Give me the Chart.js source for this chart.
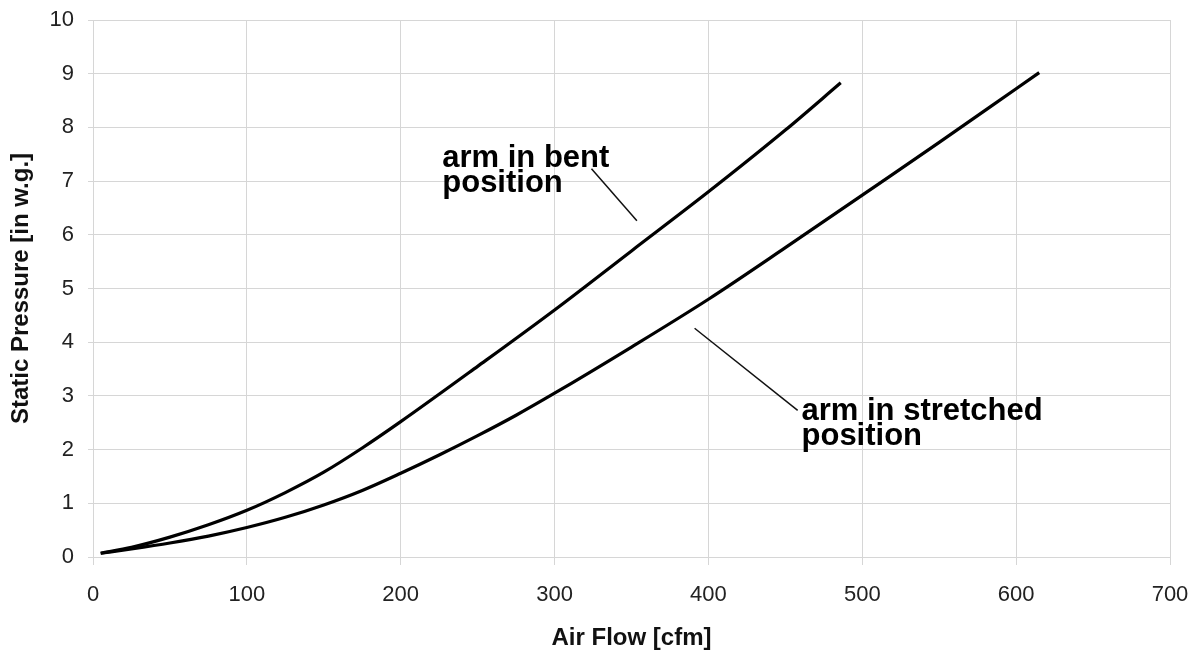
<!DOCTYPE html>
<html>
<head>
<meta charset="utf-8">
<script src="https://cdn.jsdelivr.net/npm/chart.js@4/dist/chart.umd.min.js"></script>
<style>
  html, body { margin: 0; padding: 0; background: #fff; }
  #wrap { width: 1197px; height: 650px; }
</style>
</head>
<body>
<div id="wrap"><canvas id="pressureChart" width="1197" height="650"></canvas></div>
<script>
// arm in bent position
let bentFlow = [5, 25, 50, 75, 100, 125, 150, 175, 200, 250, 300, 350, 400, 450, 486]
let bentPressure = [0.07, 0.18, 0.37, 0.6, 0.87, 1.2, 1.58, 2.03, 2.52, 3.55, 4.6, 5.7, 6.8, 7.95, 8.83]

// arm in stretched position
let stretchedFlow = [5, 25, 50, 75, 100, 125, 150, 175, 200, 225, 250, 275, 300, 350, 400, 450, 500, 550, 600, 615]
let stretchedPressure = [0.07, 0.15, 0.26, 0.39, 0.55, 0.74, 0.97, 1.24, 1.56, 1.9, 2.26, 2.64, 3.05, 3.91, 4.8, 5.76, 6.74, 7.72, 8.72, 9.02]

let xTicks = [0, 100, 200, 300, 400, 500, 600, 700]
let yTicks = [0, 1, 2, 3, 4, 5, 6, 7, 8, 9, 10]

// callouts: text lines, where the text starts, and the leader line ends (all in data units)
let callouts = [
    { lines: ['arm in bent', 'position'], at: [227, 7.27], leader: [[324, 7.23], [353.5, 6.26]] },
    { lines: ['arm in stretched', 'position'], at: [460.5, 2.55], leader: [[391, 4.26], [458, 2.73]] }
]

function toPoints(xs, ys) {
    return xs.map((x, i) => ({ x: x, y: ys[i] }))
}

const calloutPlugin = {
    id: 'callouts',
    afterDatasetsDraw(chart) {
        const ctx = chart.ctx
        const sx = chart.scales.x
        const sy = chart.scales.y
        ctx.save()
        callouts.forEach(c => {
            ctx.strokeStyle = '#111'
            ctx.lineWidth = 1.5
            ctx.beginPath()
            ctx.moveTo(sx.getPixelForValue(c.leader[0][0]), sy.getPixelForValue(c.leader[0][1]))
            ctx.lineTo(sx.getPixelForValue(c.leader[1][0]), sy.getPixelForValue(c.leader[1][1]))
            ctx.stroke()

            ctx.fillStyle = '#000'
            ctx.font = 'bold 31px "Liberation Sans", Arial, sans-serif'
            ctx.textAlign = 'left'
            ctx.textBaseline = 'alphabetic'
            let px = sx.getPixelForValue(c.at[0])
            let py = sy.getPixelForValue(c.at[1])
            c.lines.forEach((t, i) => ctx.fillText(t, px, py + i * 25))
        })
        ctx.restore()
    }
}

let gridColor = '#d6d6d6'
let ctx = document.getElementById('pressureChart').getContext('2d')

const pressureChart = new Chart(ctx, {
    type: 'line',
    data: {
        datasets: [{
            label: 'arm in bent position',
            data: toPoints(bentFlow, bentPressure),
            borderColor: '#000',
            borderWidth: 3.2,
            pointRadius: 0,
            cubicInterpolationMode: 'monotone',
            fill: false
        },
        {
            label: 'arm in stretched position',
            data: toPoints(stretchedFlow, stretchedPressure),
            borderColor: '#000',
            borderWidth: 3.2,
            pointRadius: 0,
            cubicInterpolationMode: 'monotone',
            fill: false
        }]
    },
    options: {
        responsive: false,
        animation: false,
        layout: { padding: { top: 20, right: 27, left: 0, bottom: 0 } },
        plugins: {
            legend: { display: false },
            tooltip: { enabled: false }
        },
        scales: {
            x: {
                type: 'linear',
                min: 0,
                max: 700,
                afterBuildTicks: scale => { scale.ticks = xTicks.map(v => ({ value: v })) },
                afterFit: scale => {
                    scale.height = 93
                    scale.paddingLeft = 0
                    scale.paddingRight = 0
                },
                grid: { color: gridColor, lineWidth: 1, tickLength: 8 },
                border: { color: gridColor },
                ticks: {
                    color: '#222',
                    padding: 17,
                    font: { family: '"Liberation Sans", Arial, sans-serif', size: 22 }
                },
                title: {
                    display: true,
                    text: 'Air Flow [cfm]',
                    color: '#111',
                    padding: 0,
                    font: { family: '"Liberation Sans", Arial, sans-serif', size: 24, weight: 'bold', lineHeight: 1 }
                }
            },
            y: {
                min: 0,
                max: 10,
                afterBuildTicks: scale => { scale.ticks = yTicks.map(v => ({ value: v })) },
                afterFit: scale => {
                    scale.width = 93
                    scale.paddingTop = 0
                    scale.paddingBottom = 0
                },
                grid: { color: gridColor, lineWidth: 1, tickLength: 5 },
                border: { color: gridColor },
                ticks: {
                    color: '#222',
                    padding: 14,
                    font: { family: '"Liberation Sans", Arial, sans-serif', size: 22 }
                },
                title: {
                    display: true,
                    text: 'Static Pressure [in w.g.]',
                    color: '#111',
                    padding: { top: 9, bottom: 0 },
                    font: { family: '"Liberation Sans", Arial, sans-serif', size: 24, weight: 'bold', lineHeight: 1 }
                }
            }
        }
    },
    plugins: [calloutPlugin]
})
</script>
</body>
</html>
